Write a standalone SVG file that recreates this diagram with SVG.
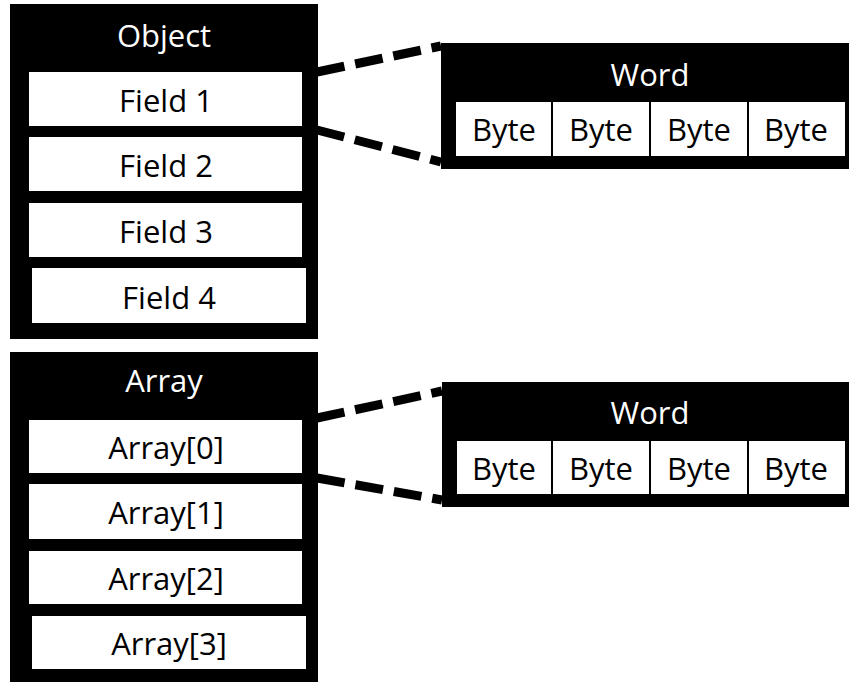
<svg xmlns="http://www.w3.org/2000/svg" width="849" height="682" viewBox="0 0 849 682">
<style>
  .frame { fill: #000; }
  .cell { fill: #fff; }
  .t { font-family: "Open Sans", "Liberation Sans", sans-serif; font-size: 31px; text-anchor: middle; }
  .tw { fill: #fff; }
  .tb { fill: #000; }
  .dash { fill: none; stroke: #000; stroke-width: 9; stroke-dasharray: 28 11; }
  .div { stroke: #000; stroke-width: 2; }
</style>
<rect width="849" height="682" fill="#fff"/>
<g id="connectors">
  <line class="dash" x1="317" y1="72" x2="441" y2="46"/>
  <line class="dash" x1="317" y1="130" x2="441" y2="162"/>
  <line class="dash" x1="317" y1="418" x2="442" y2="391"/>
  <line class="dash" x1="317" y1="478" x2="442" y2="500"/>
</g>
<g id="object">
  <rect class="frame" x="10" y="4" width="308" height="335"/>
  <text class="t tw" x="164" y="47">Object</text>
  <g id="field1">
    <rect class="cell" x="29" y="72" width="273" height="54"/>
    <text class="t tb" x="166" y="112">Field 1</text>
  </g>
  <g id="field2">
    <rect class="cell" x="29" y="137" width="273" height="54"/>
    <text class="t tb" x="166" y="177">Field 2</text>
  </g>
  <g id="field3">
    <rect class="cell" x="29" y="203" width="273" height="54"/>
    <text class="t tb" x="166" y="243">Field 3</text>
  </g>
  <g id="field4">
    <rect class="cell" x="32" y="268" width="274" height="55"/>
    <text class="t tb" x="169" y="309">Field 4</text>
  </g>
</g>
<g id="array">
  <rect class="frame" x="10" y="352" width="308" height="330"/>
  <text class="t tw" x="164" y="392">Array</text>
  <g id="array0">
    <rect class="cell" x="29" y="420" width="273" height="53"/>
    <text class="t tb" x="166" y="459">Array[0]</text>
  </g>
  <g id="array1">
    <rect class="cell" x="29" y="484" width="273" height="55"/>
    <text class="t tb" x="166" y="524">Array[1]</text>
  </g>
  <g id="array2">
    <rect class="cell" x="29" y="551" width="273" height="53"/>
    <text class="t tb" x="166" y="590">Array[2]</text>
  </g>
  <g id="array3">
    <rect class="cell" x="32" y="616" width="274" height="53"/>
    <text class="t tb" x="169" y="655">Array[3]</text>
  </g>
</g>
<g id="word1">
  <rect class="frame" x="441" y="43" width="408" height="126"/>
  <text class="t tw" x="650" y="86">Word</text>
  <rect class="cell" x="456" y="102" width="389" height="54"/>
  <line class="div" x1="552" y1="102" x2="552" y2="156"/>
  <line class="div" x1="650" y1="102" x2="650" y2="156"/>
  <line class="div" x1="748" y1="102" x2="748" y2="156"/>
  <text class="t tb" x="504" y="141">Byte</text>
  <text class="t tb" x="601" y="141">Byte</text>
  <text class="t tb" x="699" y="141">Byte</text>
  <text class="t tb" x="796" y="141">Byte</text>
</g>
<g id="word2">
  <rect class="frame" x="442" y="382" width="407" height="125"/>
  <text class="t tw" x="650" y="424">Word</text>
  <rect class="cell" x="457" y="441" width="388" height="53"/>
  <line class="div" x1="552" y1="441" x2="552" y2="494"/>
  <line class="div" x1="650" y1="441" x2="650" y2="494"/>
  <line class="div" x1="748" y1="441" x2="748" y2="494"/>
  <text class="t tb" x="504" y="480">Byte</text>
  <text class="t tb" x="601" y="480">Byte</text>
  <text class="t tb" x="699" y="480">Byte</text>
  <text class="t tb" x="796" y="480">Byte</text>
</g>
</svg>
